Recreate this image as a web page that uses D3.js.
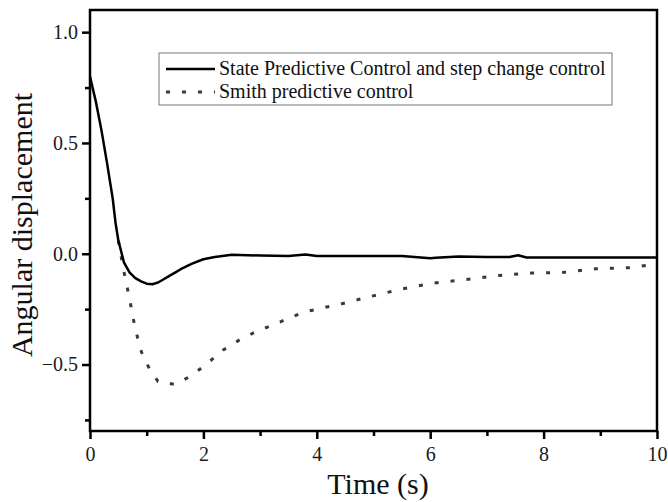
<!DOCTYPE html>
<html>
<head>
<meta charset="utf-8">
<script src="https://cdn.jsdelivr.net/npm/d3@7"></script>
<style>
  body { margin: 0; background: #fff; }
  svg { display: block; }
  svg text { font-family: "Liberation Serif", "Times New Roman", serif; }
</style>
</head>
<body>
<div id="chart"></div>
<script>
// State Predictive Control and step change control (solid)
const spcTime = [0, 0.1, 0.2, 0.3, 0.4, 0.45, 0.5, 0.6, 0.7, 0.8, 0.9, 1.0, 1.1, 1.2, 1.3, 1.4, 1.5, 1.6, 1.8, 2.0, 2.2, 2.5, 3.0, 3.5, 3.8, 4.0, 5.0, 5.5, 6.0, 6.1, 6.5, 7.0, 7.4, 7.55, 7.7, 8.0, 9.0, 10.0];
const spcValue = [0.80, 0.69, 0.56, 0.41, 0.25, 0.14, 0.06, -0.04, -0.085, -0.11, -0.125, -0.135, -0.138, -0.13, -0.115, -0.10, -0.085, -0.07, -0.045, -0.025, -0.015, -0.005, -0.008, -0.01, -0.003, -0.01, -0.01, -0.01, -0.02, -0.018, -0.012, -0.015, -0.015, -0.007, -0.017, -0.017, -0.017, -0.017];

// Smith predictive control (dotted) - visible part after it splits from the solid curve
const smithTime = [0.5, 0.59, 0.65, 0.71, 0.76, 0.83, 0.91, 1.03, 1.2, 1.5, 1.79, 2.06, 2.35, 2.63, 2.91, 3.2, 3.48, 3.77, 4.07, 4.36, 4.93, 5.5, 6.07, 6.64, 7.22, 7.79, 8.36, 8.92, 9.51, 9.8, 10.0];
const smithValue = [0.06, -0.07, -0.144, -0.22, -0.29, -0.37, -0.445, -0.51, -0.577, -0.59, -0.55, -0.497, -0.434, -0.39, -0.354, -0.324, -0.294, -0.264, -0.246, -0.231, -0.194, -0.159, -0.132, -0.116, -0.098, -0.087, -0.084, -0.068, -0.063, -0.053, -0.048];

const xMajor = [0, 2, 4, 6, 8, 10];
const xMinor = [1, 3, 5, 7, 9];
const yMajor = [-0.5, 0.0, 0.5, 1.0];
const yMinor = [-0.75, -0.25, 0.25, 0.75];

const legendLabels = ['State Predictive Control and step change control', 'Smith predictive control'];

const width = 668, height = 502;
const margin = { top: 10, right: 11, bottom: 71, left: 90 };
const serif = '"Liberation Serif", "Times New Roman", serif';

const svg = d3.select('#chart').append('svg')
  .attr('width', width)
  .attr('height', height);

const x = d3.scaleLinear().domain([0, 10]).range([margin.left, width - margin.right]);
const y = d3.scaleLinear().domain([-0.8, 1.1]).range([height - margin.bottom, margin.top]);

const line = d3.line().x(d => x(d[0])).y(d => y(d[1]));

// Smith curve first so the solid one sits on top
svg.append('path')
  .datum(d3.zip(smithTime, smithValue))
  .attr('fill', 'none')
  .attr('stroke', '#3a3a3a')
  .attr('stroke-width', 3)
  .attr('stroke-dasharray', '4,12')
  .attr('d', line);

svg.append('path')
  .datum(d3.zip(spcTime, spcValue))
  .attr('fill', 'none')
  .attr('stroke', '#000')
  .attr('stroke-width', 2.5)
  .attr('stroke-linejoin', 'round')
  .attr('d', line);

// frame
svg.append('rect')
  .attr('x', x(0)).attr('y', y(1.1))
  .attr('width', x(10) - x(0)).attr('height', y(-0.8) - y(1.1))
  .attr('fill', 'none').attr('stroke', '#000').attr('stroke-width', 2.5);

// x axis
const xAxis = svg.append('g').attr('transform', `translate(0,${y(-0.8)})`)
  .call(d3.axisBottom(x).tickValues(xMajor).tickSize(8).tickFormat(d3.format('d')));
svg.append('g').attr('transform', `translate(0,${y(-0.8)})`)
  .call(d3.axisBottom(x).tickValues(xMinor).tickSize(5).tickFormat(''));

// y axis
const yAxis = svg.append('g').attr('transform', `translate(${x(0)},0)`)
  .call(d3.axisLeft(y).tickValues(yMajor).tickSize(8).tickFormat(d3.format('.1f')));
svg.append('g').attr('transform', `translate(${x(0)},0)`)
  .call(d3.axisLeft(y).tickValues(yMinor).tickSize(5).tickFormat(''));

svg.selectAll('.domain').remove();
svg.selectAll('.tick line').attr('stroke', '#000').attr('stroke-width', 2.5);
[xAxis, yAxis].forEach(g => g.attr('font-family', serif).attr('font-size', 20));
svg.selectAll('.tick text').attr('fill', '#1a1a1a');
xAxis.selectAll('.tick text').attr('dy', '0.95em');
yAxis.selectAll('.tick text').attr('x', -12);

// axis titles
svg.append('text')
  .attr('x', 378)
  .attr('y', 494)
  .attr('text-anchor', 'middle')
  .attr('font-size', 30)
  .attr('fill', '#111')
  .text('Time (s)');

svg.append('text')
  .attr('transform', `translate(32,225) rotate(-90)`)
  .attr('text-anchor', 'middle')
  .attr('font-size', 30)
  .attr('fill', '#111')
  .text('Angular displacement');

// legend
const lg = svg.append('g');
lg.append('rect')
  .attr('x', 159).attr('y', 53).attr('width', 453).attr('height', 52)
  .attr('fill', '#fff').attr('stroke', '#777').attr('stroke-width', 1);

lg.append('line')
  .attr('x1', 166).attr('x2', 215).attr('y1', 69).attr('y2', 69)
  .attr('stroke', '#000').attr('stroke-width', 2.5);
lg.append('line')
  .attr('x1', 166).attr('x2', 215).attr('y1', 92).attr('y2', 92)
  .attr('stroke', '#3a3a3a').attr('stroke-width', 3).attr('stroke-dasharray', '4,12');

lg.selectAll('text.leg')
  .data(legendLabels)
  .enter().append('text')
  .attr('class', 'leg')
  .attr('x', 219)
  .attr('y', (d, i) => 75 + i * 23)
  .attr('font-size', 20)
  .attr('fill', '#111')
  .text(d => d);
</script>
</body>
</html>
